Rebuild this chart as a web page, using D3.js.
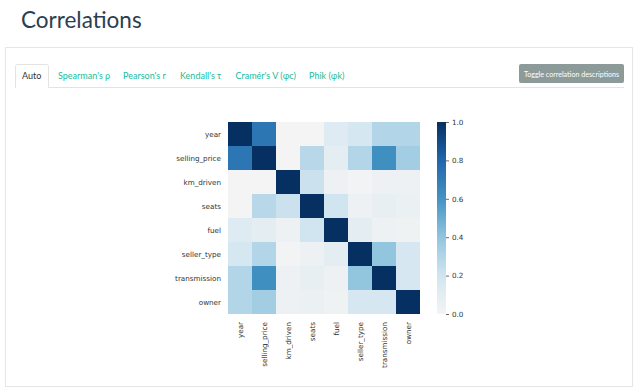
<!DOCTYPE html>
<html>
<head>
<meta charset="utf-8">
<script src="https://cdn.jsdelivr.net/npm/d3@7.9.0/dist/d3.min.js"></script>
<style>
  html, body { margin: 0; padding: 0; background: #fff; }
  svg { display: block; }
  .page { font-family: Lato, "Open Sans", sans-serif; }
  .mpl { font-family: "DejaVu Sans", sans-serif; font-size: 7.2px; fill: #333; }
</style>
</head>
<body>
<svg id="chart" width="640" height="392"></svg>
<script>
// variables shown in the correlation matrix
const variables = ['year', 'selling_price', 'km_driven', 'seats', 'fuel', 'seller_type', 'transmission', 'owner'];

// one row of the matrix per variable
const yearRow         = [1.00, 0.73, 0.00, 0.00, 0.12, 0.18, 0.30, 0.30];
const sellingPriceRow = [0.73, 1.00, 0.00, 0.28, 0.10, 0.30, 0.62, 0.35];
const kmDrivenRow     = [0.00, 0.00, 1.00, 0.22, 0.04, 0.02, 0.04, 0.04];
const seatsRow        = [0.00, 0.28, 0.22, 1.00, 0.20, 0.04, 0.07, 0.05];
const fuelRow         = [0.12, 0.10, 0.04, 0.20, 1.00, 0.10, 0.04, 0.03];
const sellerTypeRow   = [0.18, 0.30, 0.02, 0.04, 0.10, 1.00, 0.40, 0.17];
const transmissionRow = [0.30, 0.62, 0.04, 0.07, 0.04, 0.40, 1.00, 0.17];
const ownerRow        = [0.30, 0.35, 0.04, 0.05, 0.03, 0.17, 0.17, 1.00];
const matrix = [yearRow, sellingPriceRow, kmDrivenRow, seatsRow, fuelRow, sellerTypeRow, transmissionRow, ownerRow];

const colorbarTicks = [0.0, 0.2, 0.4, 0.6, 0.8, 1.0];

// blue half of RdBu
const colorStops = ['#f4f4f4', '#d1e5f0', '#92c5de', '#4393c3', '#2166ac', '#053061'];

// tabs above the plot
const tabs = ['Auto', "Spearman's ρ", "Pearson's r", "Kendall's τ", 'Cramér\'s V (φc)', 'Phik (φk)'];
const tabX = [22, 58, 123, 180, 235.5, 309];

const svg = d3.select('#chart');
const page = svg.append('g').attr('class', 'page');

// title
page.append('text')
  .attr('x', 21).attr('y', 28)
  .attr('font-size', 22.5)
  .attr('fill', '#2c3e50')
  .text('Correlations');

// panel
page.append('rect')
  .attr('x', 5.5).attr('y', 47.5)
  .attr('width', 627).attr('height', 339)
  .attr('fill', '#fff')
  .attr('stroke', '#e6e6e6');

// tab strip line
page.append('line')
  .attr('x1', 15).attr('x2', 624)
  .attr('y1', 87.5).attr('y2', 87.5)
  .attr('stroke', '#e3e3e3');

// active tab box
page.append('path')
  .attr('d', 'M15.5,87.5 V66.5 Q15.5,64.5 17.5,64.5 H46.5 Q48.5,64.5 48.5,66.5 V87.5')
  .attr('fill', '#fff')
  .attr('stroke', '#e3e3e3');
page.append('line')
  .attr('x1', 16).attr('x2', 48)
  .attr('y1', 87.5).attr('y2', 87.5)
  .attr('stroke', '#fff');

tabs.forEach((t, i) => {
  page.append('text')
    .attr('x', tabX[i]).attr('y', 78.5)
    .attr('font-size', 9)
    .attr('fill', i === 0 ? '#333' : '#18bc9c')
    .text(t);
});

// button
page.append('rect')
  .attr('x', 519).attr('y', 64)
  .attr('width', 105).attr('height', 19)
  .attr('rx', 2)
  .attr('fill', '#8c9a99');
page.append('text')
  .attr('x', 571.5).attr('y', 76.5)
  .attr('text-anchor', 'middle')
  .attr('font-size', 7.1)
  .attr('fill', '#fff')
  .text('Toggle correlation descriptions');

// heatmap
const plotLeft = 228, plotTop = 122, plotSize = 192;
const x = d3.scaleBand().domain(variables).range([plotLeft, plotLeft + plotSize]);
const y = d3.scaleBand().domain(variables).range([plotTop, plotTop + plotSize]);
const color = d3.scaleLinear()
  .domain(d3.range(colorStops.length).map(i => i / (colorStops.length - 1)))
  .range(colorStops)
  .interpolate(d3.interpolateRgb)
  .clamp(true);

const cells = [];
matrix.forEach((row, i) => row.forEach((v, j) => cells.push({ r: variables[i], c: variables[j], v })));

svg.append('g')
  .selectAll('rect')
  .data(cells)
  .join('rect')
  .attr('x', d => x(d.c))
  .attr('y', d => y(d.r))
  .attr('width', x.bandwidth())
  .attr('height', y.bandwidth())
  .attr('fill', d => color(d.v));

// row labels
svg.append('g')
  .selectAll('text')
  .data(variables)
  .join('text')
  .attr('class', 'mpl')
  .attr('x', plotLeft - 7)
  .attr('y', d => y(d) + y.bandwidth() / 2)
  .attr('dy', '0.35em')
  .attr('text-anchor', 'end')
  .text(d => d);

// column labels
svg.append('g')
  .selectAll('text')
  .data(variables)
  .join('text')
  .attr('class', 'mpl')
  .attr('transform', d => `translate(${x(d) + x.bandwidth() / 2},${plotTop + plotSize + 8}) rotate(-90)`)
  .attr('dy', '0.35em')
  .attr('text-anchor', 'end')
  .text(d => d);

// colorbar
const defs = svg.append('defs');
const grad = defs.append('linearGradient')
  .attr('id', 'cbar')
  .attr('x1', 0).attr('y1', 1).attr('x2', 0).attr('y2', 0);
d3.range(0, 1.0001, 0.05).forEach(t => {
  grad.append('stop').attr('offset', t).attr('stop-color', color(t));
});

const cbX = 437, cbW = 9;
svg.append('rect')
  .attr('x', cbX).attr('y', plotTop)
  .attr('width', cbW).attr('height', plotSize)
  .attr('fill', 'url(#cbar)');

const cy = d3.scaleLinear().domain([0, 1]).range([plotTop + plotSize, plotTop]);
const cbAxis = d3.axisRight(cy)
  .tickValues(colorbarTicks)
  .tickFormat(d3.format('.1f'))
  .tickSize(3)
  .tickPadding(3);
const ag = svg.append('g')
  .attr('transform', `translate(${cbX + cbW},0)`)
  .call(cbAxis);
ag.select('.domain').remove();
ag.selectAll('line').attr('stroke', '#444').attr('stroke-width', 0.8);
ag.selectAll('text')
  .attr('class', 'mpl')
  .attr('font-family', null)
  .attr('font-size', null)
  .attr('fill', null);
</script>
</body>
</html>
